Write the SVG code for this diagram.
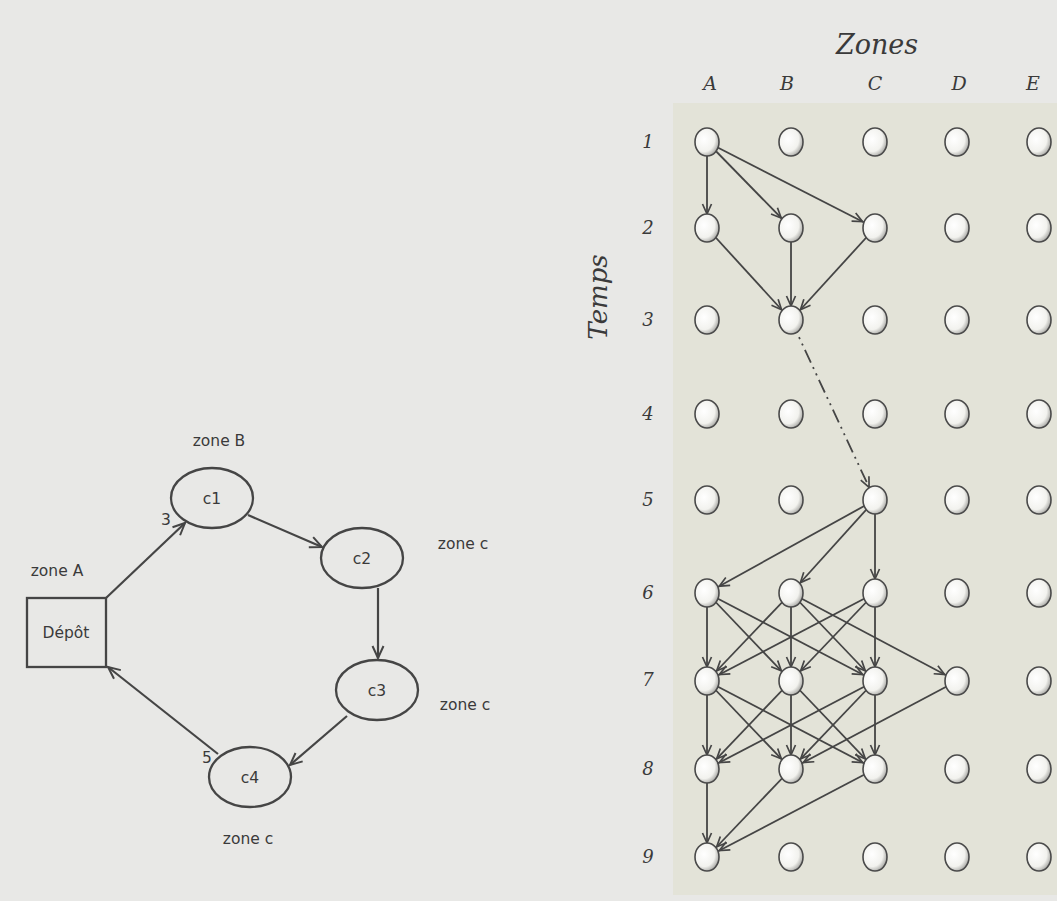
<svg xmlns="http://www.w3.org/2000/svg" width="1057" height="901" viewBox="0 0 1057 901">
<defs>
<style>
.lbl{font-family:"DejaVu Sans","Liberation Sans",sans-serif;font-size:15.5px;fill:#3a3a3a}
.hand{font-family:"DejaVu Serif","Liberation Serif",serif;font-style:italic;fill:#3a3a3a}
.edge{stroke:#454545;stroke-width:2.2;fill:none}
.g{stroke:#454545;stroke-width:1.8;fill:none;marker-end:url(#gh)}
.node{fill:url(#shade);stroke:#4a4a4a;stroke-width:1.6}
.lnode{fill:none;stroke:#454545;stroke-width:2.3}
</style>
<radialGradient id="shade" cx="38%" cy="40%" r="68%">
<stop offset="0" stop-color="#ffffff"/>
<stop offset="0.65" stop-color="#f2f2ee"/>
<stop offset="1" stop-color="#9c9c98"/>
</radialGradient>
<marker id="ah" markerUnits="userSpaceOnUse" orient="auto" overflow="visible" refX="0" refY="0" markerWidth="12" markerHeight="12">
<path d="M-12,-5.5 L0,0 L-12,5.5" fill="none" stroke="#454545" stroke-width="2"/>
</marker>
<marker id="gh" markerUnits="userSpaceOnUse" orient="auto" overflow="visible" refX="0" refY="0" markerWidth="12" markerHeight="12">
<path d="M-24,-4.5 L-14,0 L-24,4.5" fill="none" stroke="#454545" stroke-width="1.7"/>
</marker>
</defs>
<rect x="0" y="0" width="1057" height="901" fill="#e8e8e6"/>
<rect x="673" y="103" width="384" height="792" fill="#e3e3d8"/>

<!-- Left diagram -->
<g id="left-connectors">
<line class="edge" x1="106" y1="598" x2="185" y2="523" marker-end="url(#ah)"/>
<line class="edge" x1="248" y1="515" x2="322" y2="547" marker-end="url(#ah)"/>
<line class="edge" x1="378" y1="588" x2="378" y2="658" marker-end="url(#ah)"/>
<line class="edge" x1="347" y1="716" x2="290" y2="765" marker-end="url(#ah)"/>
<line class="edge" x1="218" y1="754" x2="108" y2="667" marker-end="url(#ah)"/>
</g>
<g id="depot"><rect class="lnode" x="27" y="598" width="79" height="69"/><text class="lbl" x="66" y="638" text-anchor="middle">Dépôt</text></g>
<g id="c1"><ellipse class="lnode" cx="212" cy="498" rx="41" ry="30"/><text class="lbl" x="212" y="504" text-anchor="middle">c1</text></g>
<g id="c2"><ellipse class="lnode" cx="362" cy="558" rx="41" ry="30"/><text class="lbl" x="362" y="564" text-anchor="middle">c2</text></g>
<g id="c3"><ellipse class="lnode" cx="377" cy="690" rx="41" ry="30"/><text class="lbl" x="377" y="696" text-anchor="middle">c3</text></g>
<g id="c4"><ellipse class="lnode" cx="250" cy="777" rx="41" ry="30"/><text class="lbl" x="250" y="783" text-anchor="middle">c4</text></g>
<g id="left-labels">
<text class="lbl" x="219" y="446" text-anchor="middle">zone B</text>
<text class="lbl" x="57" y="576" text-anchor="middle">zone A</text>
<text class="lbl" x="463" y="549" text-anchor="middle">zone c</text>
<text class="lbl" x="465" y="710" text-anchor="middle">zone c</text>
<text class="lbl" x="248" y="844" text-anchor="middle">zone c</text>
<text class="lbl" x="166" y="525" text-anchor="middle">3</text>
<text class="lbl" x="207" y="763" text-anchor="middle">5</text>
</g>

<!-- Right grid labels -->
<g id="grid-labels">
<text class="hand" x="877" y="54" text-anchor="middle" font-size="27">Zones</text>
<text class="hand" x="710" y="90" text-anchor="middle" font-size="19">A</text>
<text class="hand" x="787" y="90" text-anchor="middle" font-size="19">B</text>
<text class="hand" x="875" y="90" text-anchor="middle" font-size="19">C</text>
<text class="hand" x="959" y="90" text-anchor="middle" font-size="19">D</text>
<text class="hand" x="1033" y="90" text-anchor="middle" font-size="19">E</text>
<text class="hand" x="607" y="297" text-anchor="middle" font-size="26" transform="rotate(-90 607 297)">Temps</text>
<text class="hand" x="648" y="148" text-anchor="middle" font-size="18">1</text>
<text class="hand" x="648" y="234" text-anchor="middle" font-size="18">2</text>
<text class="hand" x="648" y="326" text-anchor="middle" font-size="18">3</text>
<text class="hand" x="648" y="420" text-anchor="middle" font-size="18">4</text>
<text class="hand" x="648" y="506" text-anchor="middle" font-size="18">5</text>
<text class="hand" x="648" y="599" text-anchor="middle" font-size="18">6</text>
<text class="hand" x="648" y="686" text-anchor="middle" font-size="18">7</text>
<text class="hand" x="648" y="775" text-anchor="middle" font-size="18">8</text>
<text class="hand" x="648" y="863" text-anchor="middle" font-size="18">9</text>
</g>

<g id="grid-connectors">
<line class="g" x1="707" y1="142" x2="707" y2="228"/>
<line class="g" x1="707" y1="142" x2="791" y2="228"/>
<line class="g" x1="707" y1="142" x2="875" y2="228"/>
<line class="g" x1="707" y1="228" x2="791" y2="320"/>
<line class="g" x1="791" y1="228" x2="791" y2="320"/>
<line class="g" x1="875" y1="228" x2="791" y2="320"/>
<line class="g" x1="791" y1="320" x2="875" y2="500" stroke-dasharray="14 5 2 5 2 5"/>
<line class="g" x1="875" y1="500" x2="707" y2="593"/>
<line class="g" x1="875" y1="500" x2="791" y2="593"/>
<line class="g" x1="875" y1="500" x2="875" y2="593"/>
<line class="g" x1="707" y1="593" x2="707" y2="681"/>
<line class="g" x1="707" y1="593" x2="791" y2="681"/>
<line class="g" x1="707" y1="593" x2="875" y2="681"/>
<line class="g" x1="791" y1="593" x2="707" y2="681"/>
<line class="g" x1="791" y1="593" x2="791" y2="681"/>
<line class="g" x1="791" y1="593" x2="875" y2="681"/>
<line class="g" x1="791" y1="593" x2="957" y2="681"/>
<line class="g" x1="875" y1="593" x2="707" y2="681"/>
<line class="g" x1="875" y1="593" x2="791" y2="681"/>
<line class="g" x1="875" y1="593" x2="875" y2="681"/>
<line class="g" x1="707" y1="681" x2="707" y2="769"/>
<line class="g" x1="707" y1="681" x2="791" y2="769"/>
<line class="g" x1="707" y1="681" x2="875" y2="769"/>
<line class="g" x1="791" y1="681" x2="707" y2="769"/>
<line class="g" x1="791" y1="681" x2="791" y2="769"/>
<line class="g" x1="791" y1="681" x2="875" y2="769"/>
<line class="g" x1="875" y1="681" x2="707" y2="769"/>
<line class="g" x1="875" y1="681" x2="791" y2="769"/>
<line class="g" x1="875" y1="681" x2="875" y2="769"/>
<line class="g" x1="957" y1="681" x2="791" y2="769"/>
<line class="g" x1="707" y1="769" x2="707" y2="857"/>
<line class="g" x1="791" y1="769" x2="707" y2="857"/>
<line class="g" x1="875" y1="769" x2="707" y2="857"/>
</g>

<g id="grid-nodes">
<g id="r1"><ellipse class="node" cx="707" cy="142" rx="12" ry="14"/><ellipse class="node" cx="791" cy="142" rx="12" ry="14"/><ellipse class="node" cx="875" cy="142" rx="12" ry="14"/><ellipse class="node" cx="957" cy="142" rx="12" ry="14"/><ellipse class="node" cx="1039" cy="142" rx="12" ry="14"/></g>
<g id="r2"><ellipse class="node" cx="707" cy="228" rx="12" ry="14"/><ellipse class="node" cx="791" cy="228" rx="12" ry="14"/><ellipse class="node" cx="875" cy="228" rx="12" ry="14"/><ellipse class="node" cx="957" cy="228" rx="12" ry="14"/><ellipse class="node" cx="1039" cy="228" rx="12" ry="14"/></g>
<g id="r3"><ellipse class="node" cx="707" cy="320" rx="12" ry="14"/><ellipse class="node" cx="791" cy="320" rx="12" ry="14"/><ellipse class="node" cx="875" cy="320" rx="12" ry="14"/><ellipse class="node" cx="957" cy="320" rx="12" ry="14"/><ellipse class="node" cx="1039" cy="320" rx="12" ry="14"/></g>
<g id="r4"><ellipse class="node" cx="707" cy="414" rx="12" ry="14"/><ellipse class="node" cx="791" cy="414" rx="12" ry="14"/><ellipse class="node" cx="875" cy="414" rx="12" ry="14"/><ellipse class="node" cx="957" cy="414" rx="12" ry="14"/><ellipse class="node" cx="1039" cy="414" rx="12" ry="14"/></g>
<g id="r5"><ellipse class="node" cx="707" cy="500" rx="12" ry="14"/><ellipse class="node" cx="791" cy="500" rx="12" ry="14"/><ellipse class="node" cx="875" cy="500" rx="12" ry="14"/><ellipse class="node" cx="957" cy="500" rx="12" ry="14"/><ellipse class="node" cx="1039" cy="500" rx="12" ry="14"/></g>
<g id="r6"><ellipse class="node" cx="707" cy="593" rx="12" ry="14"/><ellipse class="node" cx="791" cy="593" rx="12" ry="14"/><ellipse class="node" cx="875" cy="593" rx="12" ry="14"/><ellipse class="node" cx="957" cy="593" rx="12" ry="14"/><ellipse class="node" cx="1039" cy="593" rx="12" ry="14"/></g>
<g id="r7"><ellipse class="node" cx="707" cy="681" rx="12" ry="14"/><ellipse class="node" cx="791" cy="681" rx="12" ry="14"/><ellipse class="node" cx="875" cy="681" rx="12" ry="14"/><ellipse class="node" cx="957" cy="681" rx="12" ry="14"/><ellipse class="node" cx="1039" cy="681" rx="12" ry="14"/></g>
<g id="r8"><ellipse class="node" cx="707" cy="769" rx="12" ry="14"/><ellipse class="node" cx="791" cy="769" rx="12" ry="14"/><ellipse class="node" cx="875" cy="769" rx="12" ry="14"/><ellipse class="node" cx="957" cy="769" rx="12" ry="14"/><ellipse class="node" cx="1039" cy="769" rx="12" ry="14"/></g>
<g id="r9"><ellipse class="node" cx="707" cy="857" rx="12" ry="14"/><ellipse class="node" cx="791" cy="857" rx="12" ry="14"/><ellipse class="node" cx="875" cy="857" rx="12" ry="14"/><ellipse class="node" cx="957" cy="857" rx="12" ry="14"/><ellipse class="node" cx="1039" cy="857" rx="12" ry="14"/></g>
</g>
</svg>
